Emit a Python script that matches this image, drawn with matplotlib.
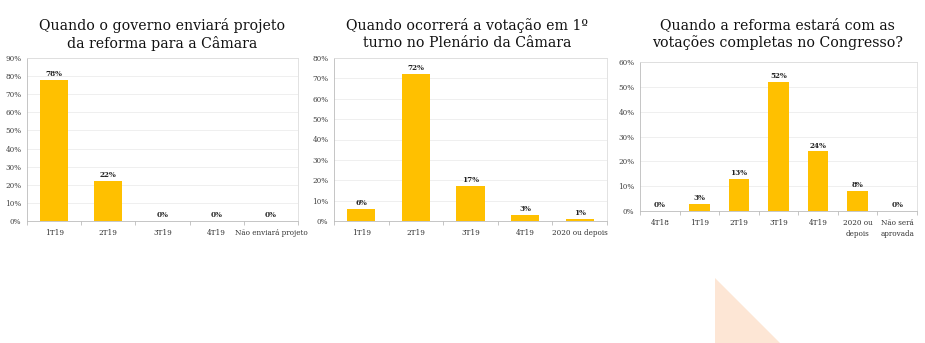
import numpy as np
import matplotlib
matplotlib.use("Agg")
import matplotlib.pyplot as plt
from matplotlib.patches import Polygon

titles = ["Quando o governo enviará projeto\nda reforma para a Câmara",
          "Quando ocorrerá a votação em 1º\nturno no Plenário da Câmara",
          "Quando a reforma estará com as\nvotações completas no Congresso?"]

cats1 = ["1T19", "2T19", "3T19", "4T19", "Não enviará projeto"]
vals1 = [78, 22, 0, 0, 0]

cats2 = ["1T19", "2T19", "3T19", "4T19", "2020 ou depois"]
vals2 = [6, 72, 17, 3, 1]

cats3 = ["4T18", "1T19", "2T19", "3T19", "4T19", "2020 ou\ndepois", "Não será\naprovada"]
vals3 = [0, 3, 13, 52, 24, 8, 0]

ymax = [90, 80, 60]

bar_color = "#FFC000"
serif = "DejaVu Serif"

fig = plt.figure(figsize=(9.25, 3.43), dpi=100)
W, H = 925, 343

# axes boxes in pixels: left, right, top, bottom
boxes = [(27, 298, 58, 221), (334, 607, 58, 221), (640, 917, 62, 211)]
title_x = [162, 467, 777]

data = [(cats1, vals1), (cats2, vals2), (cats3, vals3)]

for i, ((cats, vals), (l, r, t, b)) in enumerate(zip(data, boxes)):
    ax = fig.add_axes([l / W, 1 - b / H, (r - l) / W, (b - t) / H])
    x = np.arange(len(cats))
    ax.bar(x, vals, width=0.52, color=bar_color, zorder=3)
    for xi, v in zip(x, vals):
        ax.text(xi, v + ymax[i] * 0.012, f"{v}%", ha="center", va="bottom",
                fontsize=5.2, fontweight="bold", family=serif, color="#222222")
    ax.set_xlim(-0.5, len(cats) - 0.5)
    ax.set_ylim(0, ymax[i])
    ax.set_yticks(np.arange(0, ymax[i] + 1, 10))
    ax.set_yticklabels([f"{v}%" for v in range(0, ymax[i] + 1, 10)],
                       fontsize=5.2, family=serif, color="#444444")
    ax.set_xticks(x)
    ax.set_xticklabels(cats, fontsize=5.2, family=serif, color="#333333",
                       linespacing=1.5)
    ax.set_xticks(np.arange(-0.5, len(cats), 1), minor=True)
    ax.tick_params(axis="x", which="major", length=0, pad=6)
    ax.tick_params(axis="x", which="minor", length=3, color="#bbbbbb", width=0.6)
    ax.tick_params(axis="y", length=0, pad=4)
    ax.grid(axis="y", color="#ececec", linewidth=0.6, zorder=0)
    for s in ["top", "right"]:
        ax.spines[s].set_color("#dddddd")
        ax.spines[s].set_linewidth(0.6)
    for s in ["left", "bottom"]:
        ax.spines[s].set_color("#bbbbbb")
        ax.spines[s].set_linewidth(0.6)
    fig.text(title_x[i] / W, 1 - 18 / H, titles[i], ha="center", va="top",
             fontsize=10.2, family=serif, color="#111111", linespacing=1.25)

# decorative triangle bottom-right
tri = Polygon([(715 / W, 1 - 278 / H), (780 / W, 0), (715 / W, 0)],
              closed=True, transform=fig.transFigure, facecolor="#FDE6D5",
              edgecolor="none")
fig.patches.append(tri)

fig.savefig("out.png", dpi=100)
